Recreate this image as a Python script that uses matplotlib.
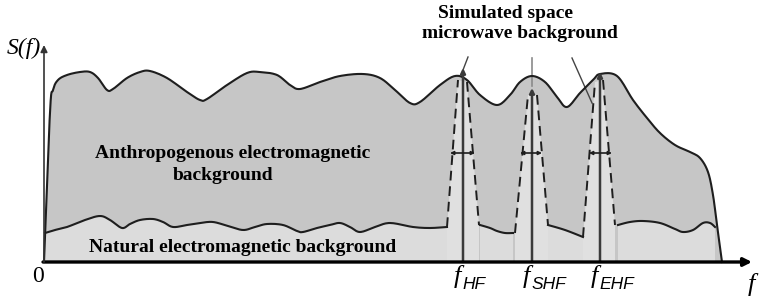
import numpy as np
import matplotlib.pyplot as plt

plt.rcParams['font.family'] = ['Liberation Serif', 'DejaVu Serif']

# frequency axis in drawing units, level = height above the f axis
upper_f = [44, 50, 53, 58, 67, 80, 90, 98, 107, 113, 127, 140, 150, 167, 187, 200, 207,
           227, 247, 260, 277, 290, 300, 320, 340, 363, 380, 395, 410, 420, 440, 455,
           467, 480, 497, 510, 520, 532, 545, 557, 567, 580, 593, 600, 617, 633, 647,
           660, 675, 690, 700, 708, 713, 717, 722]
upper_s = [0, 150, 172, 182, 187, 190, 190, 184, 172, 173, 184, 190, 191, 184, 170, 162, 163,
           177, 189, 190, 187, 177, 173, 180, 186, 188, 184, 172, 159, 160, 177, 186,
           182, 167, 157, 167, 180, 186, 180, 165, 155, 169, 182, 188, 186, 162, 144,
           129, 117, 110, 104, 90, 67, 37, 0]

# natural background, broken by the three simulated bands
natural_f = [
    [45, 55, 67, 85, 100, 110, 122, 130, 140, 153, 163, 173, 187, 200, 213, 228, 243,
     255, 267, 283, 297, 303, 317, 330, 340, 350, 360, 375, 390, 413, 430, 447],
    [480, 490, 497, 505, 513],
    [548, 565, 583],
    [618, 630, 643, 660, 675, 683, 693, 703, 710, 715],
]
natural_s = [
    [29, 32, 35, 42, 46, 42, 34, 38, 42, 43, 40, 35, 37, 39, 40, 36, 32,
     35, 38, 37, 31, 30, 34, 37, 39, 35, 30, 35, 39, 35, 34, 35],
    [37, 34, 31, 29, 29],
    [37, 32, 25],
    [37, 40, 41, 39, 33, 30, 32, 39, 39, 35],
]

# simulated bands: centre, peak, dashed slopes (bottom/top on each side), bandwidth
band_names = ['HF', 'SHF', 'EHF']
band_f = [463, 532, 600]
band_peak = [194, 174, 190]
left_bot_f = [447, 515, 583]
left_bot_s = [35, 29, 25]
left_top_f = [458, 528, 595]
left_top_s = [182, 167, 180]
right_top_f = [467, 537, 603]
right_top_s = [180, 167, 182]
right_bot_f = [479, 548, 615]
right_bot_s = [37, 37, 37]
bw_lo = [450, 520, 589]
bw_hi = [475, 542, 612]
bw_level = 109


def smooth(xs, ys, n=12):
    p = np.column_stack([xs, ys]).astype(float)
    p = np.vstack([p[0], p, p[-1]])
    t = np.linspace(0, 1, n, endpoint=False)[:, None]
    out = []
    for i in range(1, len(p) - 2):
        p0, p1, p2, p3 = p[i - 1], p[i], p[i + 1], p[i + 2]
        out.append(0.5 * (2 * p1 + (-p0 + p2) * t + (2 * p0 - 5 * p1 + 4 * p2 - p3) * t ** 2
                          + (-p0 + 3 * p1 - 3 * p2 + p3) * t ** 3))
    out.append(p[-2][None])
    c = np.vstack(out)
    return c[:, 0], c[:, 1]


dark_fill = '#c6c6c6'
light_fill = '#dcdcdc'
line_c = '#1e1e1e'

fig = plt.figure(figsize=(7.66, 3.04), dpi=100)
ax = fig.add_axes([0, 0, 1, 1])
ax.set_xlim(0, 766)
ax.set_ylim(-42, 262)
ax.axis('off')

ux, uy = smooth(upper_f, upper_s)
ax.fill(ux, uy, color=dark_fill, lw=0, zorder=1)

for fs, ss in zip(natural_f, natural_s):
    sx, sy = smooth(fs, ss)
    ax.fill(np.r_[sx[0], sx, sx[-1]], np.r_[0, sy, 0], color=light_fill, lw=0, zorder=2)

for i in range(3):
    px = [left_bot_f[i], left_bot_f[i], left_top_f[i], right_top_f[i], right_bot_f[i], right_bot_f[i]]
    py = [0, left_bot_s[i], left_top_s[i], right_top_s[i], right_bot_s[i], 0]
    ax.fill(px, py, color='#e0e0e0', lw=0, zorder=2)

ax.plot(ux, uy, color=line_c, lw=1.5, zorder=4)
for fs, ss in zip(natural_f, natural_s):
    sx, sy = smooth(fs, ss)
    ax.plot(sx, sy, color=line_c, lw=1.5, zorder=4)

for i in range(3):
    ax.plot([left_bot_f[i], left_top_f[i]], [left_bot_s[i], left_top_s[i]],
            color=line_c, lw=1.4, ls=(0, (5, 3)), zorder=4)
    ax.plot([right_top_f[i], right_bot_f[i]], [right_top_s[i], right_bot_s[i]],
            color=line_c, lw=1.4, ls=(0, (5, 3)), zorder=4)
    ax.annotate('', xy=(band_f[i], band_peak[i]), xytext=(band_f[i], 0),
                arrowprops=dict(arrowstyle='-|>', color='#3a3a3a', lw=1.8,
                                mutation_scale=7, shrinkA=0, shrinkB=0), zorder=5)
    ax.annotate('', xy=(bw_lo[i], bw_level), xytext=(bw_hi[i], bw_level),
                arrowprops=dict(arrowstyle='<|-|>', color=line_c, lw=1.2,
                                mutation_scale=5, shrinkA=0, shrinkB=0), zorder=5)
    ax.text(band_f[i] - 9, -3, 'f', fontsize=19, fontstyle='italic', va='top', ha='left', zorder=6)
    ax.text(band_f[i] - 1, -15, band_names[i], fontsize=12.5, fontstyle='italic',
            family=['Liberation Sans'], va='top', ha='left', zorder=6)

# pointers from the caption
ax.plot([468, 463], [205, 192], color='#444444', lw=1)
ax.plot([532, 532], [204, 176], color='#8a8a8a', lw=1.2)
ax.plot([572, 592], [204, 159], color='#444444', lw=1)

# axes
ax.annotate('', xy=(752, 0), xytext=(43, 0),
            arrowprops=dict(arrowstyle='-|>', color='black', lw=2.4, mutation_scale=12,
                            shrinkA=0, shrinkB=0), zorder=7)
ax.annotate('', xy=(44, 217), xytext=(44, 0),
            arrowprops=dict(arrowstyle='-|>', color='#333333', lw=1.2, mutation_scale=10,
                            shrinkA=0, shrinkB=0), zorder=7)

ax.text(24, 214, 'S(f)', fontsize=17, fontstyle='italic', ha='center', va='center')
ax.text(38, -14, '0', fontsize=17, ha='center', va='center')
ax.text(751, -22, 'f', fontsize=19, fontstyle='italic', ha='center', va='center')

bold = dict(fontsize=14, fontweight='bold', ha='center', va='center', zorder=6)
ax.text(505, 248, 'Simulated space', **bold)
ax.text(520, 228, 'microwave background', **bold)
ax.text(233, 109, 'Anthropogenous electromagnetic', **bold)
ax.text(223, 86, 'background', **bold)
ax.text(243, 14, 'Natural electromagnetic background', **bold)

fig.savefig('out.png', dpi=100)
